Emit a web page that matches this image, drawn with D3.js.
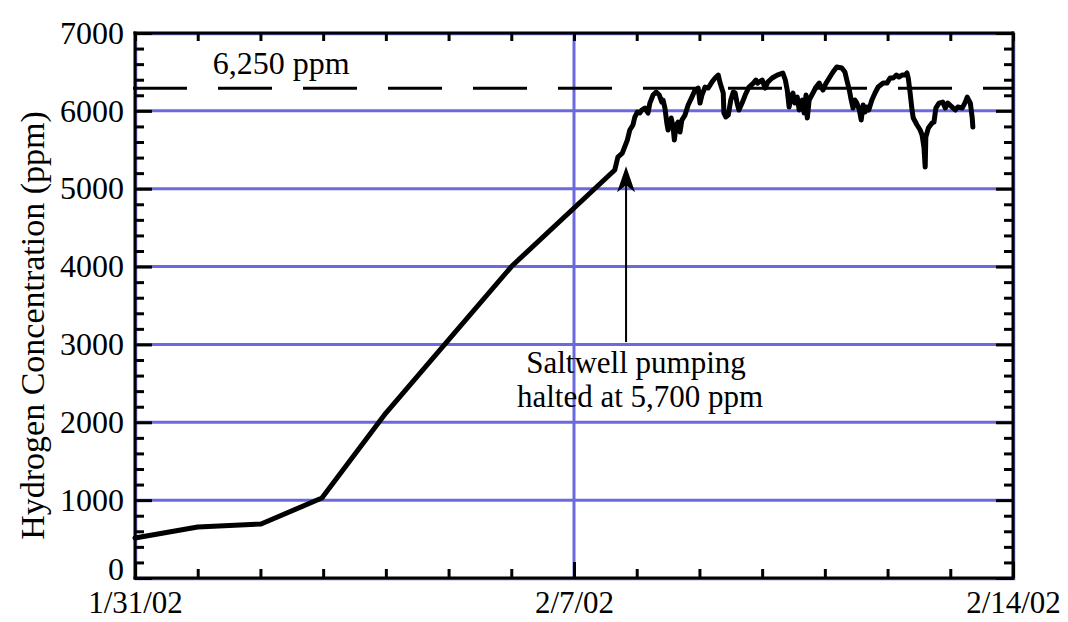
<!DOCTYPE html>
<html>
<head>
<meta charset="utf-8">
<script src="https://cdn.jsdelivr.net/npm/d3@7"></script>
<style>
  html, body { margin: 0; padding: 0; background: #fff; }
  svg { display: block; }
  text { font-family: "Liberation Serif", "Times New Roman", serif; fill: #000; }
</style>
</head>
<body>
<svg id="chart" width="1068" height="622"></svg>
<script>
// ---- data (x = days since 1/31/02, y = hydrogen ppm) ----
const hydrogenDays = [
  0, 1.00, 2.01, 2.98, 4.00, 5.01, 6.01, 7.65,
  7.70, 7.77, 7.85, 7.89, 7.94, 7.97, 8.01, 8.05, 8.08, 8.13, 8.18, 8.21,
  8.26, 8.31, 8.36, 8.40, 8.42, 8.45, 8.48, 8.50, 8.55, 8.58, 8.60, 8.63,
  8.66, 8.69, 8.72, 8.77, 8.82, 8.88, 8.93, 8.98, 9.01, 9.04, 9.09, 9.14,
  9.20, 9.25, 9.30, 9.33, 9.38, 9.39, 9.42, 9.46, 9.50, 9.54, 9.57, 9.60,
  9.63, 9.68, 9.73, 9.79, 9.86, 9.90, 9.93, 10.00, 10.05, 10.09, 10.16, 10.24,
  10.33, 10.37, 10.40, 10.43, 10.46, 10.49, 10.52, 10.56, 10.59, 10.64, 10.67, 10.70,
  10.72, 10.75, 10.81, 10.86, 10.91, 10.97, 11.02, 11.07, 11.13, 11.19, 11.27, 11.32,
  11.35, 11.39, 11.42, 11.45, 11.48, 11.51, 11.55, 11.58, 11.61, 11.64, 11.67, 11.70,
  11.75, 11.80, 11.85, 11.93, 11.99, 12.04, 12.09, 12.14, 12.18, 12.23, 12.28, 12.31,
  12.33, 12.36, 12.39, 12.41, 12.47, 12.52, 12.55, 12.58, 12.60, 12.61, 12.65, 12.71,
  12.74, 12.77, 12.82, 12.88, 12.92, 12.96, 13.03, 13.08, 13.12, 13.19, 13.24, 13.27,
  13.32, 13.35, 13.36
];
const hydrogenPpm = [
  514, 655, 694, 1027, 2119, 3069, 4007, 5240,
  5407, 5458, 5625, 5754, 5818, 5921, 5985, 5972, 6011, 6036, 5972, 6100,
  6203, 6242, 6203, 6113, 6139, 6036, 5844, 5754, 5908, 5792, 5625, 5818,
  5856, 5728, 5882, 5946, 6075, 6177, 6267, 6293, 6100, 6203, 6306, 6293,
  6370, 6422, 6460, 6357, 6229, 5972, 5921, 5946, 6139, 6242, 6229, 6100,
  6011, 6100, 6203, 6306, 6357, 6396, 6357, 6396, 6293, 6370, 6422, 6460,
  6486, 6396, 6267, 6049, 6177, 6229, 6100, 6177, 6011, 6139, 5972, 6203,
  5908, 6139, 6229, 6306, 6357, 6267, 6357, 6422, 6499, 6563, 6550, 6499,
  6396, 6267, 6139, 6036, 6139, 6100, 6011, 5882, 6075, 5985, 6049, 6011,
  6139, 6229, 6306, 6357, 6357, 6422, 6422, 6460, 6434, 6460, 6460, 6486,
  6422, 6229, 6011, 5908, 5818, 5754, 5690, 5535, 5278, 5664, 5779, 5844,
  5856, 6036, 6100, 6113, 6036, 6100, 6049, 6011, 6049, 6036, 6113, 6177,
  6100, 5908, 5792
];

const xTickDays   = [0, 7, 14];
const xTickLabels = ["1/31/02", "2/7/02", "2/14/02"];
const yTickValues = [0, 1000, 2000, 3000, 4000, 5000, 6000, 7000];
const limitLevel  = [6290];           // dashed "6,250 ppm" line as drawn
const limitLabel  = ["6,250 ppm"];
const arrowDay    = [7.83];
const arrowFromTo = [3030, 5290];
const noteLines   = ["Saltwell pumping", "halted at 5,700 ppm"];
const yTitle      = "Hydrogen Concentration (ppm)";

// ---- layout ----
const svg = d3.select("#chart");
const L = 135, R = 1013, T = 33, B = 578;
const FS = 32;
const blue = "#6a6ade";

const x = d3.scaleLinear().domain([0, 14]).range([L, R]);
const y = d3.scaleLinear().domain([0, 7000]).range([B, T]);

// grid
const g = svg.append("g");
g.selectAll("line.hgrid").data(yTickValues.filter(v => v > 0 && v < 7000)).join("line")
  .attr("x1", L).attr("x2", R).attr("y1", d => y(d)).attr("y2", d => y(d))
  .attr("stroke", blue).attr("stroke-width", 3);
g.append("line").attr("x1", x(7)).attr("x2", x(7)).attr("y1", T).attr("y2", B)
  .attr("stroke", blue).attr("stroke-width", 3);
// blue frame
g.append("rect").attr("x", L + 1).attr("y", T + 1).attr("width", R - L).attr("height", B - T)
  .attr("fill", "none").attr("stroke", blue).attr("stroke-width", 2.5);

// dashed limit line
g.append("line")
  .attr("x1", x(0) - 2).attr("x2", x(14)).attr("y1", y(limitLevel[0])).attr("y2", y(limitLevel[0]))
  .attr("stroke", "#000").attr("stroke-width", 3).attr("stroke-dasharray", "54,31");

const minorY = d3.range(0, 7001, 200).filter(v => v % 1000 !== 0);
const dayTicks = d3.range(0, 15);

function styleAxis(sel, fs) {
  sel.select(".domain").remove();
  sel.selectAll(".tick line").attr("stroke", "#000").attr("stroke-width", 3);
  sel.selectAll(".tick text").style("font-size", (fs || FS) + "px")
    .style("font-family", "'Liberation Serif','Times New Roman',serif").attr("fill", "#000");
}

// left axis
svg.append("g").attr("transform", `translate(${L},0)`)
  .call(d3.axisLeft(y).tickValues(minorY).tickSize(-9).tickFormat(""))
  .call(styleAxis);
const leftMajor = svg.append("g").attr("transform", `translate(${L},0)`)
  .call(d3.axisLeft(y).tickValues(yTickValues).tickSize(-17).tickPadding(11).tickFormat(d3.format("d")))
  .call(styleAxis);
leftMajor.selectAll(".tick text").filter(d => d === 0).attr("dy", "0.05em");
// right axis
svg.append("g").attr("transform", `translate(${R},0)`)
  .call(d3.axisRight(y).tickValues(minorY).tickSize(-9).tickFormat(""))
  .call(styleAxis);
svg.append("g").attr("transform", `translate(${R},0)`)
  .call(d3.axisRight(y).tickValues(yTickValues).tickSize(-17).tickFormat(""))
  .call(styleAxis);
// bottom axis
svg.append("g").attr("transform", `translate(0,${B})`)
  .call(d3.axisBottom(x).tickValues(dayTicks.filter(d => !xTickDays.includes(d))).tickSize(-9).tickFormat(""))
  .call(styleAxis);
svg.append("g").attr("transform", `translate(0,${B})`)
  .call(d3.axisBottom(x).tickValues(xTickDays).tickSize(-16).tickPadding(13)
    .tickFormat((d, i) => xTickLabels[i]))
  .call(sel => styleAxis(sel, 31));
// top axis
svg.append("g").attr("transform", `translate(0,${T})`)
  .call(d3.axisTop(x).tickValues(dayTicks).tickSize(-8).tickFormat(""))
  .call(styleAxis);

// black frame lines
const frame = svg.append("g").attr("stroke", "#000").attr("stroke-width", 3);
frame.append("line").attr("x1", L).attr("x2", L).attr("y1", T - 1.5).attr("y2", B + 1.5);
frame.append("line").attr("x1", L - 1.5).attr("x2", R + 1).attr("y1", B).attr("y2", B);
frame.append("line").attr("x1", R).attr("x2", R).attr("y1", T - 1.5).attr("y2", B + 1.5);
frame.append("line").attr("x1", L - 1.5).attr("x2", R + 1).attr("y1", T).attr("y2", T);

// data line
const pts = hydrogenDays.map((d, i) => [d, hydrogenPpm[i]]);
svg.append("path")
  .attr("d", d3.line().x(d => x(d[0])).y(d => y(d[1]))(pts))
  .attr("fill", "none").attr("stroke", "#000").attr("stroke-width", 5)
  .attr("stroke-linejoin", "round").attr("stroke-linecap", "round");

// limit label
svg.append("text").attr("x", x(1.24)).attr("y", y(limitLevel[0]) - 14)
  .style("font-size", FS + "px").text(limitLabel[0]);

// arrow
const ax = x(arrowDay[0]);
const ay0 = y(arrowFromTo[0]), ay1 = y(arrowFromTo[1]);
svg.append("line").attr("x1", ax).attr("x2", ax).attr("y1", ay0).attr("y2", ay1 + 15)
  .attr("stroke", "#000").attr("stroke-width", 2);
svg.append("path")
  .attr("d", `M${ax},${ay1} L${ax - 9},${ay1 + 26} L${ax},${ay1 + 19} L${ax + 9},${ay1 + 26} Z`)
  .attr("fill", "#000");

// note
svg.append("text").attr("text-anchor", "middle").attr("x", ax + 10).attr("y", ay0 + 31)
  .style("font-size", "31px").text(noteLines[0]);
svg.append("text").attr("text-anchor", "middle").attr("x", ax + 14).attr("y", ay0 + 65)
  .style("font-size", "31px").text(noteLines[1]);

// y title
svg.append("text").attr("text-anchor", "middle")
  .attr("transform", `translate(44,${(T + B) / 2 + 20}) rotate(-90)`)
  .style("font-size", "34px").text(yTitle);
</script>
</body>
</html>
